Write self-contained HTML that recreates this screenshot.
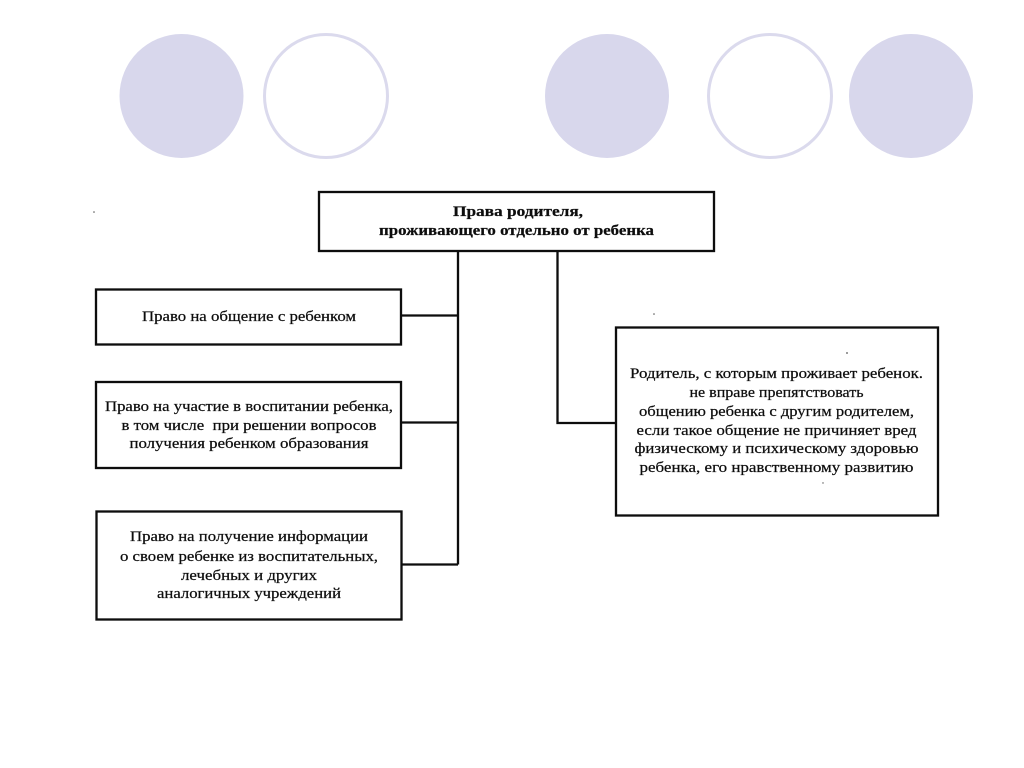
<!DOCTYPE html>
<html lang="ru">
<head>
<meta charset="utf-8">
<style>
html,body{margin:0;padding:0;background:#fff}
svg{display:block}
text{font-family:"Liberation Serif","DejaVu Serif",serif;fill:#111;stroke:#111;stroke-width:.25px;text-anchor:middle;font-size:15px}
</style>
</head>
<body>
<svg width="1024" height="768" viewBox="0 0 1024 768" xmlns="http://www.w3.org/2000/svg">
<defs><filter id="s" x="-5%" y="-5%" width="110%" height="110%"><feGaussianBlur stdDeviation="0.35"/></filter></defs>
<rect width="1024" height="768" fill="#fff"/>
<g fill="#d8d7ec">
<circle cx="181.500" cy="96" r="62"/>
<circle cx="607" cy="96" r="62"/>
<circle cx="911" cy="96" r="62"/>
</g>
<g fill="#fff" stroke="#dbdaed" stroke-width="3">
<circle cx="326" cy="96" r="61.500"/>
<circle cx="770" cy="96" r="61.500"/>
</g>
<g filter="url(#s)">
<g fill="none" stroke="#0d0d0d" stroke-width="2.300">
<rect x="319" y="192" width="395" height="59"/>
<rect x="96" y="289.500" width="305" height="55"/>
<rect x="96" y="382" width="305" height="86"/>
<rect x="96.500" y="511.500" width="305" height="108"/>
<rect x="616" y="327.500" width="322" height="188"/>
<path d="M458 251V564.500M401 315.500H458M401 422.500H458M401 564.500H458M557.500 251V423H616"/>
</g>
<g font-weight="bold">
<text x="518" y="216" textLength="130" lengthAdjust="spacingAndGlyphs">Права родителя,</text>
<text x="516.500" y="235" textLength="275" lengthAdjust="spacingAndGlyphs">проживающего отдельно от ребенка</text>
</g>
<text x="249" y="321" textLength="214" lengthAdjust="spacingAndGlyphs">Право на общение с ребенком</text>
<text x="249" y="411" textLength="288" lengthAdjust="spacingAndGlyphs">Право на участие в воспитании ребенка,</text>
<text x="249" y="430" textLength="255" lengthAdjust="spacingAndGlyphs">в том числе &#160;при решении вопросов</text>
<text x="249" y="448" textLength="239" lengthAdjust="spacingAndGlyphs">получения ребенком образования</text>
<text x="249" y="541" textLength="238" lengthAdjust="spacingAndGlyphs">Право на получение информации</text>
<text x="249" y="561" textLength="258" lengthAdjust="spacingAndGlyphs">о своем ребенке из воспитательных,</text>
<text x="249" y="580" textLength="136" lengthAdjust="spacingAndGlyphs">лечебных и других</text>
<text x="249" y="598" textLength="184" lengthAdjust="spacingAndGlyphs">аналогичных учреждений</text>
<text x="776.500" y="378" textLength="293" lengthAdjust="spacingAndGlyphs">Родитель, с которым проживает ребенок.</text>
<text x="776.500" y="397" textLength="174" lengthAdjust="spacingAndGlyphs">не вправе препятствовать</text>
<text x="776.500" y="416" textLength="275" lengthAdjust="spacingAndGlyphs">общению ребенка с другим родителем,</text>
<text x="776.500" y="435" textLength="280" lengthAdjust="spacingAndGlyphs">если такое общение не причиняет вред</text>
<text x="776.500" y="453" textLength="284" lengthAdjust="spacingAndGlyphs">физическому и психическому здоровью</text>
<text x="776.500" y="472" textLength="274" lengthAdjust="spacingAndGlyphs">ребенка, его нравственному развитию</text>
</g>
<g fill="#555">
<circle cx="94" cy="212" r="0.800"/>
<circle cx="654" cy="314" r="0.800"/>
<circle cx="847" cy="353" r="0.900"/>
<circle cx="823" cy="483" r="0.700"/>
</g>
</svg>
</body>
</html>
